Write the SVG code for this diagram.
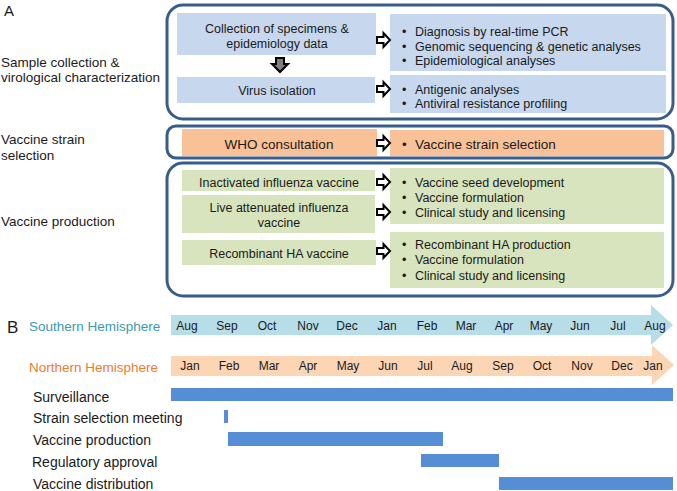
<svg xmlns="http://www.w3.org/2000/svg" width="677" height="491" viewBox="0 0 677 491">
<defs>
<style>
text{font-family:"Liberation Sans",Arial,sans-serif;fill:#1a1a1a}
.lbl{font-size:13.5px}
.bl{font-size:14px}
.bx{font-size:12.5px}
.c{text-anchor:middle}
.mo{font-size:12px;text-anchor:middle}
.outer{fill:none;stroke:#385d8a;stroke-width:3}
.blue{fill:#c6d7ee}
.org{fill:#f9c197}
.grn{fill:#d7e4bd}
.ra{fill:#fff;stroke:#000;stroke-width:2;stroke-linejoin:miter}
.bar{fill:#558ed5}
</style>
<path id="rarr" d="M0,-3 H6.5 V-7 L13,0 L6.5,7 V3 H0 Z"/>
</defs>
<text x="4" y="16" style="font-size:15px">A</text>
<text x="7" y="333" style="font-size:17px">B</text>

<g id="labels">
<text class="lbl" x="1" y="67">Sample collection &amp;</text>
<text class="lbl" x="1" y="82">virological characterization</text>
<text class="lbl" x="1" y="144">Vaccine strain</text>
<text class="lbl" x="1" y="160">selection</text>
<text class="lbl" x="1" y="226">Vaccine production</text>
</g>

<g id="group-sample">
<rect class="outer" x="167" y="5" width="506" height="114" rx="16"/>
</g>
<g id="group-strain">
<rect class="outer" x="167" y="126" width="506" height="32" rx="9"/>
</g>
<g id="group-production">
<rect class="outer" x="167" y="163" width="506" height="133" rx="16"/>
</g>

<g id="n-collection">
<rect class="blue" x="177" y="13" width="199" height="42"/>
<text class="bx c" x="277" y="32.5">Collection of specimens &amp;</text>
<text class="bx c" x="277" y="47.5">epidemiology data</text>
</g>
<g id="n-virus">
<rect class="blue" x="177" y="77" width="198" height="26"/>
<text class="bx c" x="277" y="94.5">Virus isolation</text>
</g>
<g id="n-analyses1">
<rect class="blue" x="390" y="14" width="276" height="57"/>
<text class="bx" x="402" y="36">•<tspan x="415">Diagnosis by real-time PCR</tspan></text>
<text class="bx" x="402" y="50.5">•<tspan x="415">Genomic sequencing &amp; genetic analyses</tspan></text>
<text class="bx" x="402" y="65">•<tspan x="415">Epidemiological analyses</tspan></text>
</g>
<g id="n-analyses2">
<rect class="blue" x="390" y="75" width="276" height="38"/>
<text class="bx" x="402" y="94">•<tspan x="415">Antigenic analyses</tspan></text>
<text class="bx" x="402" y="108">•<tspan x="415">Antiviral resistance profiling</tspan></text>
</g>

<g id="n-who">
<rect class="org" x="182" y="129" width="195" height="27"/>
<text class="lbl c" x="279" y="148.5">WHO consultation</text>
</g>
<g id="n-strainsel">
<rect class="org" x="390" y="130" width="274" height="26"/>
<text class="lbl" x="402" y="148.5">•<tspan x="415">Vaccine strain selection</tspan></text>
</g>

<g id="n-inactivated">
<rect class="grn" x="182" y="170" width="193" height="21"/>
<text class="bx c" x="279" y="186.5">Inactivated influenza vaccine</text>
</g>
<g id="n-live">
<rect class="grn" x="182" y="195" width="193" height="38"/>
<text class="bx c" x="279" y="211.5">Live attenuated influenza</text>
<text class="bx c" x="279" y="226.5">vaccine</text>
</g>
<g id="n-recomb">
<rect class="grn" x="182" y="240" width="194" height="25"/>
<text class="bx c" x="279" y="257.5">Recombinant HA vaccine</text>
</g>
<g id="n-seed">
<rect class="grn" x="390" y="168" width="274" height="56"/>
<text class="bx" x="402" y="186.5">•<tspan x="415">Vaccine seed development</tspan></text>
<text class="bx" x="402" y="201.5">•<tspan x="415">Vaccine formulation</tspan></text>
<text class="bx" x="402" y="216.5">•<tspan x="415">Clinical study and licensing</tspan></text>
</g>
<g id="n-rha">
<rect class="grn" x="390" y="232" width="274" height="56"/>
<text class="bx" x="402" y="248.5">•<tspan x="415">Recombinant HA production</tspan></text>
<text class="bx" x="402" y="263.5">•<tspan x="415">Vaccine formulation</tspan></text>
<text class="bx" x="402" y="279.5">•<tspan x="415">Clinical study and licensing</tspan></text>
</g>

<g id="connectors">
<path d="M276,58 H284 V64 H288 L280,72 L272,64 H276 Z" fill="#7f7f7f" stroke="#000" stroke-width="2"/>
<use href="#rarr" class="ra" x="377" y="40"/>
<use href="#rarr" class="ra" x="377" y="89"/>
<use href="#rarr" class="ra" x="377" y="143"/>
<use href="#rarr" class="ra" x="377" y="182"/>
<use href="#rarr" class="ra" x="377" y="212"/>
<use href="#rarr" class="ra" x="377" y="251"/>
</g>

<g id="timeline-south">
<text x="29" y="331" style="font-size:13.5px;fill:#3c9ab2">Southern Hemisphere</text>
<path d="M171,315 H651 V305 L673,325 L651,345 V335 H171 Z" fill="#b7dde8"/>
<text class="mo" x="187" y="329.5">Aug</text>
<text class="mo" x="227" y="329.5">Sep</text>
<text class="mo" x="267" y="329.5">Oct</text>
<text class="mo" x="308" y="329.5">Nov</text>
<text class="mo" x="347" y="329.5">Dec</text>
<text class="mo" x="387" y="329.5">Jan</text>
<text class="mo" x="427" y="329.5">Feb</text>
<text class="mo" x="466" y="329.5">Mar</text>
<text class="mo" x="504" y="329.5">Apr</text>
<text class="mo" x="541" y="329.5">May</text>
<text class="mo" x="580" y="329.5">Jun</text>
<text class="mo" x="618" y="329.5">Jul</text>
<text class="mo" x="655" y="329.5">Aug</text>
</g>

<g id="timeline-north">
<text x="29" y="372" style="font-size:13.5px;fill:#ec7c30">Northern Hemisphere</text>
<path d="M171,356 H652 V345 L674,365 L652,385 V376 H171 Z" fill="#fcd5b5"/>
<text class="mo" x="190" y="370">Jan</text>
<text class="mo" x="229" y="370">Feb</text>
<text class="mo" x="269" y="370">Mar</text>
<text class="mo" x="308" y="370">Apr</text>
<text class="mo" x="348" y="370">May</text>
<text class="mo" x="388" y="370">Jun</text>
<text class="mo" x="425" y="370">Jul</text>
<text class="mo" x="462" y="370">Aug</text>
<text class="mo" x="503" y="370">Sep</text>
<text class="mo" x="542" y="370">Oct</text>
<text class="mo" x="582" y="370">Nov</text>
<text class="mo" x="622" y="370">Dec</text>
<text class="mo" x="653" y="370">Jan</text>
</g>

<g id="gantt">
<text class="bl" x="33" y="402">Surveillance</text>
<rect class="bar" x="171" y="388" width="502" height="13"/>
<text class="bl" x="33" y="423">Strain selection meeting</text>
<rect class="bar" x="224" y="410" width="4" height="13"/>
<text class="bl" x="33" y="445">Vaccine production</text>
<rect class="bar" x="228" y="432" width="215" height="14"/>
<text class="bl" x="32" y="467">Regulatory approval</text>
<rect class="bar" x="421" y="454" width="78" height="13"/>
<text class="bl" x="33" y="489">Vaccine distribution</text>
<rect class="bar" x="499" y="477" width="174" height="13"/>
</g>
</svg>
